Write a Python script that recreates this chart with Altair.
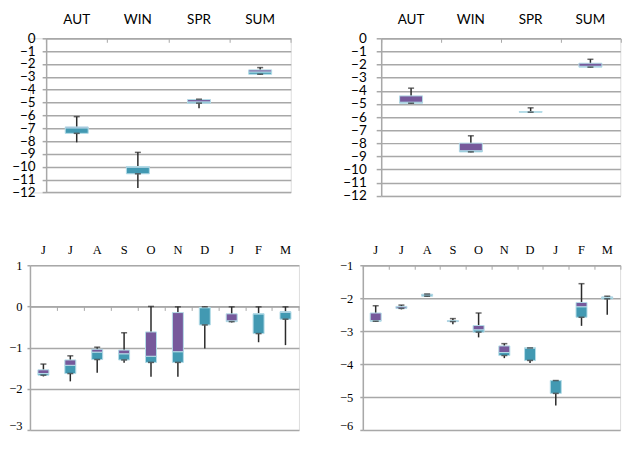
import altair as alt
import pandas as pd

# ---------------- data ----------------
seasons = ["AUT", "WIN", "SPR", "SUM"]
months = ["J", "J", "A", "S", "O", "N", "D", "J", "F", "M"]

# top-left panel
tl_min = [-8.10, -11.65, -5.45, -2.85]
tl_q1 = [-7.40, -10.55, -5.05, -2.80]
tl_med = [-6.97, -10.03, -4.95, -2.62]
tl_q3 = [-6.90, -9.98, -4.77, -2.46]
tl_max = [-6.10, -8.88, -4.74, -2.28]

# top-right panel
tr_min = [-5.00, -8.68, -5.68, -2.23]
tr_q1 = [-4.95, -8.66, -5.63, -2.20]
tr_med = [-4.87, -8.57, -5.61, -2.13]
tr_q3 = [-4.39, -7.99, -5.59, -1.90]
tr_max = [-3.80, -7.43, -5.30, -1.60]

# bottom-left panel
bl_min = [-1.70, -1.82, -1.61, -1.37, -1.71, -1.71, -1.02, -0.39, -0.87, -0.94]
bl_q1 = [-1.67, -1.63, -1.29, -1.30, -1.36, -1.36, -0.45, -0.37, -0.66, -0.31]
bl_med = [-1.63, -1.43, -1.11, -1.15, -1.21, -1.10, -0.03, -0.35, -0.18, -0.14]
bl_q3 = [-1.54, -1.30, -1.04, -1.06, -0.62, -0.15, -0.03, -0.18, -0.18, -0.13]
bl_max = [-1.40, -1.20, -0.99, -0.64, 0.00, -0.01, -0.01, -0.01, -0.01, -0.01]

# bottom-right panel
br_min = [-2.72, -2.34, -1.96, -2.79, -3.19, -3.82, -3.97, -5.26, -2.84, -2.50]
br_q1 = [-2.70, -2.31, -1.94, -2.71, -3.03, -3.74, -3.89, -4.89, -2.58, -2.02]
br_med = [-2.68, -2.30, -1.90, -2.70, -2.96, -3.65, -3.51, -4.50, -2.26, -1.98]
br_q3 = [-2.45, -2.25, -1.88, -2.68, -2.83, -3.45, -3.51, -4.50, -2.13, -1.96]
br_max = [-2.23, -2.21, -1.87, -2.62, -2.45, -3.38, -3.51, -4.50, -1.56, -1.94]

PURPLE = "#76599b"
TEAL = "#4299b2"
EDGE = "#b4dce8"
WHISK = "#2b2b2b"
GRID = "#a8a8a8"


def panel(cats, mn, q1, med, q3, mx, w, h, ydom, yvals, font, fsize,
          box_w, cap_w, zero_frac, top_pad, y_pad, y_tick, lead=0.0, low_label=None):
    keys = [f"{c}_{i}" for i, c in enumerate(cats)]
    df = pd.DataFrame(dict(k=keys, mn=mn, q1=q1, med=med, q3=q3, mx=mx))
    xs = alt.Scale(domain=keys, paddingInner=0, paddingOuter=0, range=[lead, lead + w])
    ys = alt.Scale(domain=ydom, nice=False, zero=False)
    x_top = alt.X("k:N", scale=xs, sort=keys, title=None,
                  axis=alt.Axis(orient="top", labelExpr="split(datum.label, '_')[0]",
                                domain=False, ticks=False, tickSize=0, grid=False,
                                labelAngle=0, labelPadding=top_pad, labelFont=font,
                                labelFontSize=fsize, labelColor="#000000"))
    x_bot = alt.X("k:N", scale=xs, sort=keys, title=None,
                  axis=alt.Axis(orient="bottom", offset=-(h * zero_frac), labels=False,
                                domain=True, domainColor=GRID, domainWidth=1.5,
                                ticks=True, tickSize=4, tickColor=GRID, tickWidth=1,
                                tickBand="extent", grid=False))
    x_none = alt.X("k:N", scale=xs, sort=keys, title=None, axis=None)
    if low_label is None:
        base_line = "middle"
    else:
        base_line = {"condition": {"test": f"datum.value == {low_label}", "value": "alphabetic"},
                     "value": "middle"}
    yax = alt.Axis(values=yvals, grid=True, gridColor=GRID, gridWidth=1.5,
                   domain=True, domainColor=GRID, domainWidth=1.5,
                   ticks=True, tickSize=y_tick, tickColor=GRID, tickWidth=1.5,
                   offset=-lead, labelBaseline=base_line,
                   labelPadding=y_pad, labelFont=font, labelFontSize=fsize,
                   labelColor="#000000", labelFlush=False, labelOverlap=False)
    base = alt.Chart(df)
    whisk = base.mark_rule(color=WHISK, strokeWidth=1.5).encode(
        x=x_bot, y=alt.Y("mn:Q", scale=ys, title=None, axis=yax), y2="mx:Q")
    low = base.mark_bar(color=TEAL, size=box_w, stroke=EDGE, strokeWidth=1).encode(
        x=x_top, y=alt.Y("q1:Q", scale=ys, title=None, axis=yax), y2="med:Q")
    up = base.mark_bar(color=PURPLE, size=box_w, stroke=EDGE, strokeWidth=1).encode(
        x=x_none, y=alt.Y("med:Q", scale=ys, title=None, axis=yax), y2="q3:Q")
    cap1 = base.mark_tick(color=WHISK, size=cap_w, thickness=1.5).encode(
        x=x_none, y=alt.Y("mx:Q", scale=ys, title=None, axis=yax))
    cap2 = base.mark_tick(color=WHISK, size=cap_w, thickness=1.5).encode(
        x=x_none, y=alt.Y("q1:Q", scale=ys, title=None, axis=yax))
    return alt.layer(whisk, low, up, cap1, cap2).resolve_axis(x="independent").properties(
        width=w + lead, height=h)


SANS = "Lato"
SERIF = "Liberation Serif"

tl = panel(seasons, tl_min, tl_q1, tl_med, tl_q3, tl_max, 245, 154.4, [-12, 0],
           list(range(0, -13, -1)), SANS, 13.5, 23, 6, 1.0, 12, 7, 4, lead=16.2)
tr = panel(seasons, tr_min, tr_q1, tr_med, tr_q3, tr_max, 239.5, 157.7, [-12, 0],
           list(range(0, -13, -1)), SANS, 13.5, 23, 6, 1.0, 12, 10, 5)
bl = panel(months, bl_min, bl_q1, bl_med, bl_q3, bl_max, 269.4, 165, [-3, 1],
           [1, 0, -1, -2, -3], SERIF, 12.5, 11, 6, 0.75, 9, 5, 3, low_label=-3)
br = panel(months, br_min, br_q1, br_med, br_q3, br_max, 257.7, 165, [-6, -1],
           [-1, -2, -3, -4, -5, -6], SERIF, 12.5, 11, 6, 1.0, 9, 7, 3, low_label=-6)

top = alt.hconcat(tl, tr, spacing=50.8).resolve_scale(x="independent", y="independent")
bottom = alt.hconcat(bl, br, spacing=39.4).resolve_scale(x="independent", y="independent")
chart = alt.vconcat(top, bottom, spacing=39.3).resolve_scale(
    x="independent", y="independent").properties(
    padding={"left": 0, "top": 3, "right": 0, "bottom": 0}).configure_view(
    stroke=None).configure(background="white")

chart.save("out.html", embed_options={"renderer": "svg", "actions": False})
